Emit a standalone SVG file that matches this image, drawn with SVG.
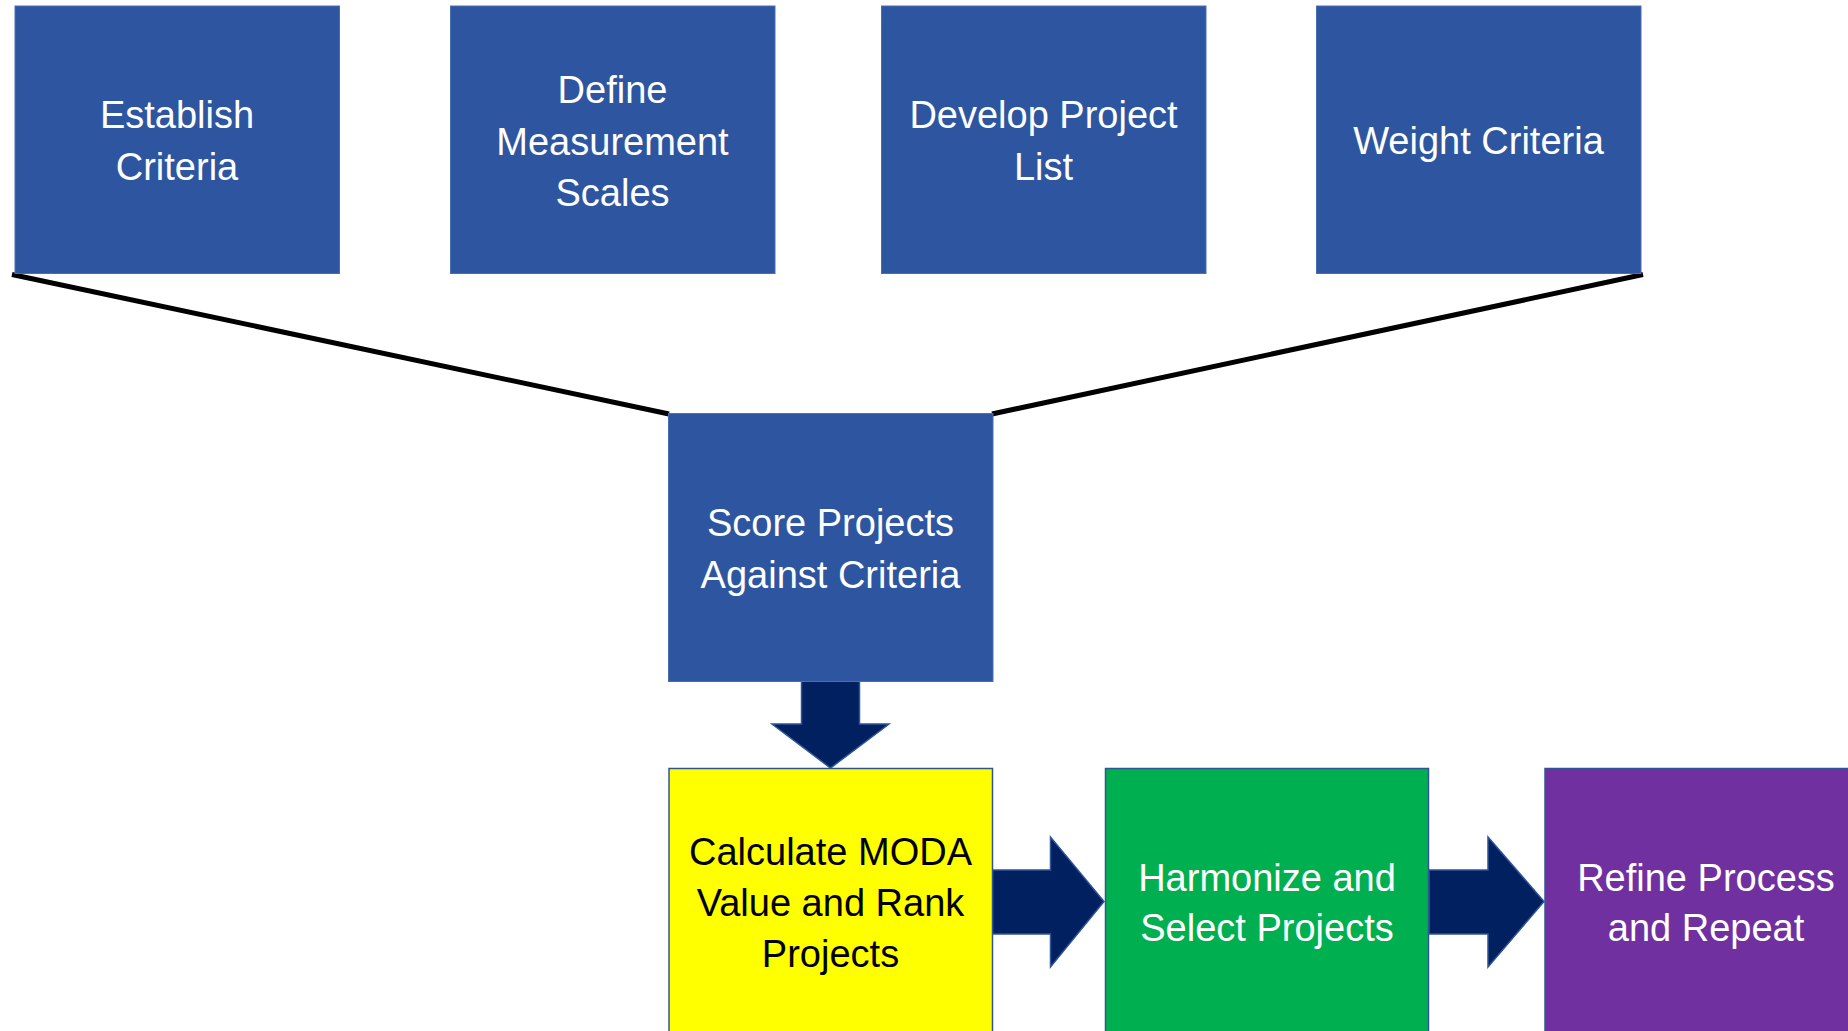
<svg xmlns="http://www.w3.org/2000/svg" width="1848" height="1031" viewBox="0 0 1848 1031">
<style>
.bx{fill:#2E55A0;stroke:#4A6FB5;stroke-width:1}
.t{font-family:"Liberation Sans",Arial,sans-serif;font-size:38px;text-anchor:middle;fill:#FFFFFF}
.tk{fill:#000000}
.ln{stroke:#000000;stroke-width:5;fill:none}
.ar{fill:#002060;stroke:#2F5597;stroke-width:1.5}
</style>
<rect width="1848" height="1031" fill="#FFFFFF"/>
<g id="connectors">
<line class="ln" x1="12" y1="274.5" x2="669" y2="414"/>
<line class="ln" x1="992" y1="414" x2="1643" y2="274.5"/>
<path class="ar" d="M801.5,681 L859.5,681 L859.5,724 L889,724 L830.5,768 L772,724 L801.5,724 Z"/>
<path class="ar" d="M992.5,870 L1050.5,870 L1050.5,837 L1104,901.5 L1050.5,967 L1050.5,934 L992.5,934 Z"/>
<path class="ar" d="M1429,870 L1488,870 L1488,837 L1544,901.5 L1488,967 L1488,934 L1429,934 Z"/>
</g>
<g id="establish">
<rect class="bx" x="15" y="6" width="324.5" height="267.5"/>
<text class="t" x="177" y="128">Establish</text>
<text class="t" x="177" y="180">Criteria</text>
</g>
<g id="define">
<rect class="bx" x="450.5" y="6" width="324.5" height="267.5"/>
<text class="t" x="612.5" y="103">Define</text>
<text class="t" x="612.5" y="154.5">Measurement</text>
<text class="t" x="612.5" y="205.5">Scales</text>
</g>
<g id="develop">
<rect class="bx" x="881.5" y="6" width="324.5" height="267.5"/>
<text class="t" x="1043.5" y="128">Develop Project</text>
<text class="t" x="1043.5" y="180">List</text>
</g>
<g id="weight">
<rect class="bx" x="1316.5" y="6" width="324.5" height="267.5"/>
<text class="t" x="1478.5" y="154">Weight Criteria</text>
</g>
<g id="score">
<rect class="bx" x="668.5" y="413.5" width="324.5" height="268"/>
<text class="t" x="830.5" y="536">Score Projects</text>
<text class="t" x="830.5" y="587.5">Against Criteria</text>
</g>
<g id="calculate">
<rect x="669" y="768.5" width="323.5" height="280" fill="#FFFF00" stroke="#2F5597" stroke-width="1.5"/>
<text class="t tk" x="830.5" y="864.5">Calculate MODA</text>
<text class="t tk" x="830.5" y="916">Value and Rank</text>
<text class="t tk" x="830.5" y="967">Projects</text>
</g>
<g id="harmonize">
<rect x="1105.5" y="768.5" width="323" height="280" fill="#00B050" stroke="#2F5597" stroke-width="1.5"/>
<text class="t" x="1267" y="891">Harmonize and</text>
<text class="t" x="1267" y="941">Select Projects</text>
</g>
<g id="refine">
<rect x="1545" y="768.5" width="323" height="280" fill="#7030A0" stroke="#2F5597" stroke-width="1.5"/>
<text class="t" x="1706" y="891">Refine Process</text>
<text class="t" x="1706" y="941">and Repeat</text>
</g>
</svg>
